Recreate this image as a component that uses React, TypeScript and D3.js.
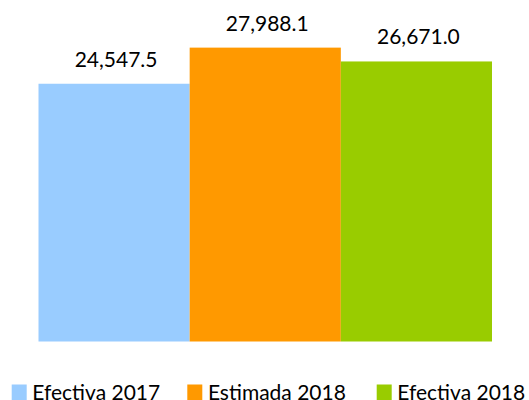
import React from "react";
import * as d3 from "d3";

const categories: string[] = ["Efectiva 2017", "Estimada 2018", "Efectiva 2018"];
const values: number[] = [24547.5, 27988.1, 26671.0];
const colors: string[] = ["#99CCFF", "#FF9900", "#99CC00"];
const legendLabels: string[] = ["Efectiva 2017", "Estimada 2018", "Efectiva 2018"];

const W = 529;
const H = 400;
const FONT = "Lato, 'Noto Sans', sans-serif";

export default function App() {
  const x = d3.scaleBand<string>().domain(categories).range([38.5, 492]).paddingInner(0).paddingOuter(0);
  const y = d3.scaleLinear().domain([0, 30000]).range([341.5, 26.5]);
  const fmt = d3.format(",.1f");

  const legendX = [11.7, 187.3, 376.7];

  return (
    <svg width={W} height={H} style={{ position: "absolute", left: 0, top: 0, background: "#fff" }}>
      {categories.map((c, i) => (
        <rect key={c} x={x(c)!} y={y(values[i])} width={x.bandwidth()} height={y(0) - y(values[i])} fill={colors[i]} />
      ))}
      {categories.map((c, i) => (
        <text
          key={"l" + c}
          x={x(c)! + x.bandwidth() / 2 + 2}
          y={y(values[i]) - 17}
          textAnchor="middle"
          fontFamily={FONT}
          fontSize={21}
          fill="#000"
        >
          {fmt(values[i])}
        </text>
      ))}
      {legendLabels.map((l, i) => (
        <g key={"lg" + i}>
          <rect x={legendX[i]} y={384.5} width={15} height={16} fill={colors[i]} />
          <text x={legendX[i] + 20.6} y={400} fontFamily={FONT} fontSize={21} fill="#000">
            {l}
          </text>
        </g>
      ))}
    </svg>
  );
}
